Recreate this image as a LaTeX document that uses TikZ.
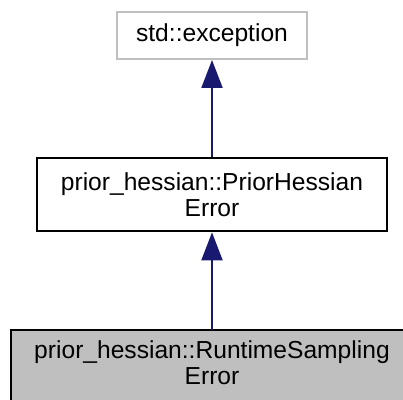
\documentclass[tikz,border=0pt]{standalone}
\usepackage{fontspec}
\setmainfont{Liberation Sans}
\usetikzlibrary{arrows.meta}
\definecolor{edgeblue}{HTML}{191970}
\definecolor{boxgray}{HTML}{BFBFBF}
\tikzset{
  classbox/.style={draw=black, line width=2.7pt, fill=white, align=center,
    inner sep=0pt, font=\fontsize{24.6}{26}\selectfont},
  inherit/.style={edgeblue, line width=2pt, -{Triangle[length=28pt,width=21pt]}}
}
\begin{document}
\begin{tikzpicture}[x=1pt, y=1pt]
    \useasboundingbox (0,0) rectangle (403,399);
    \clip (0,0) rectangle (403,399);
    \node[classbox, draw=boxgray, line width=2pt, minimum width=190pt, minimum height=47pt]
      (base) at (212,363.5) {std::exception};
    \node[classbox, minimum width=350pt, minimum height=73pt]
      (prior) at (212,204.5) {prior\_hessian::PriorHessian\\Error};
    % selected class, runs off the page
    \filldraw[fill=boxgray, line width=2.7pt] (11,69) rectangle (430,-20);
    \coordinate (runtop) at (212,69);
    \node[classbox, draw=none, fill=none] (runtime) at (212,36)
      {prior\_hessian::RuntimeSampling\\Error};
    \draw[inherit] (runtop) -- (prior.south);
    \draw[inherit] (prior.north) -- (base.south);
  \end{tikzpicture}
\end{document}
